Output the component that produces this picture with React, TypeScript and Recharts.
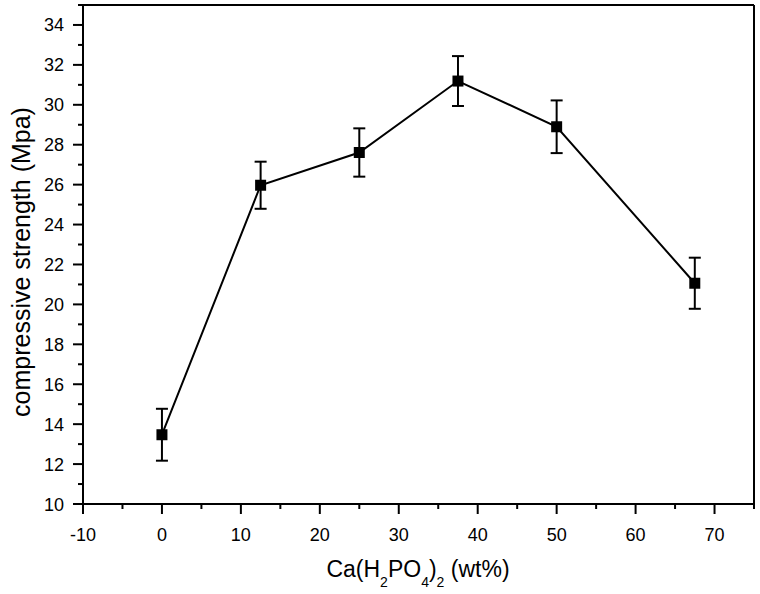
import React from 'react';
import { LineChart, Line, XAxis, YAxis, ErrorBar, ReferenceLine } from 'recharts';

// Ca(H2PO4)2 content (wt%)
const contents = [0, 12.5, 25, 37.5, 50, 67.5];
// compressive strength (MPa)
const strength = [13.47, 25.97, 27.61, 31.19, 28.9, 21.06];
// error (± MPa)
const strengthErr = [1.3, 1.18, 1.21, 1.25, 1.32, 1.28];

const xMajorTicks = [-10, 0, 10, 20, 30, 40, 50, 60, 70];
const xMinorTicks = [-5, 5, 15, 25, 35, 45, 55, 65, 75];
const yMajorTicks = [10, 12, 14, 16, 18, 20, 22, 24, 26, 28, 30, 32, 34];
const yMinorTicks = [11, 13, 15, 17, 19, 21, 23, 25, 27, 29, 31, 33, 35];

const xTicks = [...xMajorTicks, ...xMinorTicks].sort((a, b) => a - b);
const yTicks = [...yMajorTicks, ...yMinorTicks].sort((a, b) => a - b);

const data = contents.map((c, i) => ({ x: c, y: strength[i], err: strengthErr[i] }));

const FONT = '"Liberation Sans", Arial, Helvetica, sans-serif';

const XTick = (props: any) => {
  const { x, y, payload } = props;
  const major = xMajorTicks.includes(payload.value);
  return (
    <g>
      <line x1={x} x2={x} y1={y} y2={y + (major ? 10 : 5)} stroke="#000" strokeWidth={2} />
      {major && (
        <text x={x} y={y + 37} textAnchor="middle" fontSize={18} fontFamily={FONT} fill="#000">
          {payload.value}
        </text>
      )}
    </g>
  );
};

const YTick = (props: any) => {
  const { x, y, payload } = props;
  const major = yMajorTicks.includes(payload.value);
  return (
    <g>
      <line x1={x - (major ? 10 : 5)} x2={x} y1={y} y2={y} stroke="#000" strokeWidth={2} />
      {major && (
        <text x={x - 19} y={y + 6.5} textAnchor="end" fontSize={18} fontFamily={FONT} fill="#000">
          {payload.value}
        </text>
      )}
    </g>
  );
};

const YTitle = () => (
  <text
    x={30}
    y={262}
    transform="rotate(-90, 30, 262)"
    textAnchor="middle"
    fontSize={25}
    fontFamily={FONT}
    fill="#000"
  >
    compressive strength (Mpa)
  </text>
);

const XTitle = () => (
  <text x={418} y={577} textAnchor="middle" fontSize={23} fontFamily={FONT} fill="#000">
    <tspan>Ca(H</tspan>
    <tspan fontSize={14} dy={10}>2</tspan>
    <tspan dy={-10}>PO</tspan>
    <tspan fontSize={14} dy={10}>4</tspan>
    <tspan dy={-10}>)</tspan>
    <tspan fontSize={14} dy={10}>2</tspan>
    <tspan dy={-10}> (wt%)</tspan>
  </text>
);

const Square = (p: any) => (
  <rect key={`sq-${p.index}`} x={p.cx - 5.5} y={p.cy - 5.5} width={11} height={11} fill="#000" />
);

export default function App() {
  return (
    <div style={{ position: 'absolute', left: 0, top: 0 }}>
      <LineChart width={760} height={594} data={data} margin={{ top: 5, right: 6, left: 0, bottom: 0 }}>
        <XAxis
          dataKey="x"
          type="number"
          domain={[-10, 75]}
          ticks={xTicks}
          interval={0}
          tickSize={0}
          tickMargin={0}
          tickLine={false}
          tick={(p: any) => <XTick {...p} />}
          axisLine={{ stroke: '#000', strokeWidth: 2 }}
          height={90}
          allowDataOverflow
          label={{ content: () => <XTitle /> }}
        />
        <YAxis
          type="number"
          domain={[10, 35]}
          ticks={yTicks}
          interval={0}
          tickSize={0}
          tickMargin={0}
          tickLine={false}
          tick={(p: any) => <YTick {...p} />}
          axisLine={{ stroke: '#000', strokeWidth: 2 }}
          width={83}
          allowDataOverflow
          label={{ content: () => <YTitle /> }}
        />
        <ReferenceLine x={75} stroke="#000" strokeWidth={2} />
        <ReferenceLine y={35} stroke="#000" strokeWidth={2} />
        <Line
          dataKey="y"
          type="linear"
          stroke="#000"
          strokeWidth={2}
          dot={Square}
          activeDot={false}
          isAnimationActive={false}
        >
          <ErrorBar dataKey="err" direction="y" width={6} stroke="#000" strokeWidth={2} isAnimationActive={false} />
        </Line>
      </LineChart>
    </div>
  );
}
